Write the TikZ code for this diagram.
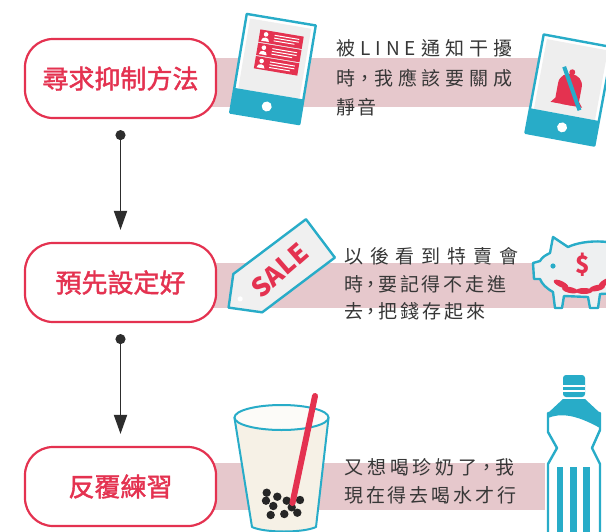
\documentclass[tikz,border=0pt]{standalone}
\usepackage{fontspec}
\newfontfamily\cjk{Noto Sans CJK TC}
\newfontfamily\cjkmed[FakeBold=1.6]{Noto Sans CJK TC}
\usetikzlibrary{arrows.meta,calc}

\definecolor{brandcyan}{RGB}{40,172,200}
\definecolor{brandred}{RGB}{228,50,80}
\definecolor{bandpink}{RGB}{230,200,204}
\definecolor{screengray}{RGB}{238,238,238}
\definecolor{inkgray}{RGB}{55,55,55}
\definecolor{arrowgray}{RGB}{45,45,45}
\definecolor{cupcream}{RGB}{246,241,230}
\definecolor{tagfill}{RGB}{240,240,240}
\definecolor{piggyfill}{RGB}{238,240,241}

% half-width centred comma
\newcommand\halfcomma{\makebox[0.5em]{，}}

\tikzset{
  stepbox/.style={draw=brandred, line width=2.2pt, rounded corners=28pt,
    minimum width=191pt, minimum height=79pt, fill=white, text=brandred,
    inner sep=0pt, font=\cjkmed\fontsize{26}{30}\selectfont},
  band/.style={fill=bandpink},
  bodytext/.style={anchor=west, inner sep=0pt, text=inkgray,
    font=\cjk\fontsize{19}{24}\selectfont},
  flowarrow/.style={draw=arrowgray, line width=1.8pt,
    {Circle[length=10pt]}-{Triangle[length=19pt,width=13pt]}},
  outline/.style={draw=brandcyan, line width=2.4pt, line join=round},
  tablet/.pic={
    \fill[white] (-35,-50) rectangle (35,50);
    \fill[screengray] (-31,-46) rectangle (31,25);
    \fill[brandcyan] (-35,25) rectangle (35,50);
    \draw[outline] (-35,-50) rectangle (35,50);
    \fill[white] (0,38) circle (5);
  },
}

\begin{document}
\begin{tikzpicture}[x=1pt,y=-1pt]
  \useasboundingbox (0,0) rectangle (606,531);
  \clip (0,0) rectangle (606,531);
  \fill[white] (0,0) rectangle (606,531);

  % pink bands behind each row
  \fill[band] (200,58) rectangle (547,107);
  \fill[band] (200,263) rectangle (606,308);
  \fill[band] (200,463) rectangle (545,510);

  % step boxes
  \node[stepbox] (b1) at (120.5,78.5) {尋求抑制方法};
  \node[stepbox] (b2) at (120.5,282.5) {預先設定好};
  \node[stepbox] (b3) at (120.5,486.5) {反覆練習};

  % connectors
  \coordinate (s1) at ($(b1.south)+(0,11)$);
  \coordinate (e1) at ($(b2.north)+(0,-12)$);
  \coordinate (s2) at ($(b2.south)+(0,11)$);
  \coordinate (e2) at ($(b3.north)+(0,-12)$);
  \draw[flowarrow] (s1) -- (e1);
  \draw[flowarrow] (s2) -- (e2);

  % ---- row 1: phone with notifications ----
  \begin{scope}[shift={(273,69)}, rotate=-9.5]
    \pic[transform shape] {tablet};
    \foreach \i in {0,1,2}{
      \pgfmathsetmacro\yt{-37+13.5*\i}
      \fill[brandred] (-19,\yt) rectangle (25,\yt+12.5);
      \fill[white] (-12.5,\yt+4) circle (2.3);
      \fill[white] (-16.5,\yt+11) .. controls (-16.5,\yt+6) and (-8.5,\yt+6) .. (-8.5,\yt+11) -- cycle;
      \fill[white] (-4,\yt+3) rectangle (21,\yt+4);
      \fill[white] (-4,\yt+5.8) rectangle (21,\yt+6.8);
      \fill[white] (-4,\yt+8.6) rectangle (17,\yt+9.6);
    }
  \end{scope}

  % ---- row 1: muted phone ----
  \begin{scope}[shift={(569,90)}, rotate=-10.5]
    \pic[transform shape] {tablet};
    \fill[brandred] (-16,15) -- (-12,10) -- (-12,-5)
      .. controls (-12,-20) and (12,-20) .. (12,-5) -- (12,10) -- (16,15) -- cycle;
    \fill[brandred] (0,-18) circle (3);
    \fill[brandred] (-5,15) arc[start angle=180, end angle=360, radius=5];
    \draw[brandcyan, line width=4pt] (-9,-22) -- (14,18);
  \end{scope}

  \node[bodytext] (t1a) at (336,48) {\hbox to 176pt{被\hfil L\hfil I\hfil N\hfil E\hfil 通\hfil 知\hfil 干\hfil 擾}};
  \node[bodytext] (t1b) at (336,78) {\hbox to 176pt{時\hfil\halfcomma\hfil 我\hfil 應\hfil 該\hfil 要\hfil 關\hfil 成}};
  \node[bodytext] (t1c) at (336,107) {靜\hspace{2pt}音};

  % ---- row 2: sale tag ----
  \begin{scope}[shift={(274.5,273)}, rotate=37]
    \filldraw[fill=tagfill, outline] (-57.5,0) -- (-33.5,-24) -- (57.5,-24)
      -- (57.5,24) -- (-33.5,24) -- cycle;
    \fill[white] (-43,0) circle (2.6);
    \node[transform shape, rotate=4, text=brandred, inner sep=0pt,
      font=\cjk\bfseries\fontsize{26}{26}\selectfont] (sale) at (6,1) {SALE};
  \end{scope}

  % ---- row 2: piggy bank ----
  \filldraw[fill=piggyfill, outline] (550,253) -- (553,237) -- (568,247)
    .. controls (585,239) and (620,238) .. (640,255) -- (640,292) -- (600,294)
    -- (598,308) -- (590,308) -- (588,297) -- (564,296) -- (562,308) -- (555,308)
    -- (553,292) .. controls (546,288) and (542,284) .. (540,279) -- (534,279)
    -- (533,263) -- (540,261) .. controls (542,257) and (546,255) .. (550,253) -- cycle;
  \fill[brandcyan] (553,266) circle (2.6);
  \node[text=brandred, inner sep=0pt, font=\cjk\bfseries\fontsize{24}{24}\selectfont] (dollar) at (583,265) {\$};
  \fill[brandred, rotate around={-25:(561,284)}] (561,284) ellipse (8 and 3);
  \fill[brandred, rotate around={-12:(570,290)}] (570,290) ellipse (8 and 3);
  \fill[brandred] (584,291) ellipse (8.5 and 3);
  \fill[brandred, rotate around={12:(597,288)}] (597,288) ellipse (8 and 3);
  \fill[brandred, rotate around={28:(606,282)}] (606,282) ellipse (8 and 3);

  \node[bodytext] (t2a) at (344,256) {\hbox to 174pt{以\hfil 後\hfil 看\hfil 到\hfil 特\hfil 賣\hfil 會}};
  \node[bodytext] (t2b) at (344,284) {\hbox to 162pt{時\hfil\halfcomma\hfil 要\hfil 記\hfil 得\hfil 不\hfil 走\hfil 進}};
  \node[bodytext] (t2c) at (344,311) {\hbox to 141pt{去\hfil\halfcomma\hfil 把\hfil 錢\hfil 存\hfil 起\hfil 來}};

  % ---- row 3: bubble tea ----
  \filldraw[fill=cupcream, draw=brandcyan, line width=2pt, line join=round]
    (234.5,418) -- (252,527) .. controls (265,533) and (303,533) .. (316,527)
    -- (328.5,418) -- cycle;
  \filldraw[fill=white!70!cupcream, draw=brandcyan, line width=2pt]
    (281.5,417.5) ellipse (47 and 12.5);
  \foreach \p in {(266.7,492.7),(277.3,496.7),(266,500.7),(273.3,506),(286.7,500.7),
                  (300,500),(270.7,515),(284.3,514),(297.3,512.7),(291.7,507.3)}
    \fill[black!85] \p circle (4.2);
  \draw[brandred, line width=6pt, line cap=round] (315,396) -- (292.5,503);

  % ---- row 3: water bottle ----
  \filldraw[fill=white, outline] (548,413) -- (548,432) -- (557,448) -- (548,464)
    -- (548,545) -- (600,545) -- (600,464) -- (592,448) -- (600,430) -- (600,413) -- cycle;
  \fill[brandcyan] (563,399) -- (548,413) -- (548,418)
    .. controls (560,413) and (575,414) .. (600,428) -- (600,413) -- (585,399) -- cycle;
  \fill[brandcyan, rounded corners=3pt] (563,375) rectangle (585,397);
  \fill[white] (563,384.5) rectangle (585,386.5);
  \fill[white] (563,390) rectangle (585,392);
  \fill[brandcyan] (557,467) rectangle (563,545);
  \fill[brandcyan] (570,467) rectangle (576.5,545);
  \fill[brandcyan] (583,467) rectangle (589.5,545);

  \node[bodytext] (t3a) at (344,467) {\hbox to 170pt{又\hfil 想\hfil 喝\hfil 珍\hfil 奶\hfil 了\hfil\halfcomma\hfil 我}};
  \node[bodytext] (t3b) at (344,495) {\hbox to 172pt{現\hfil 在\hfil 得\hfil 去\hfil 喝\hfil 水\hfil 才\hfil 行}};
\end{tikzpicture}
\end{document}
